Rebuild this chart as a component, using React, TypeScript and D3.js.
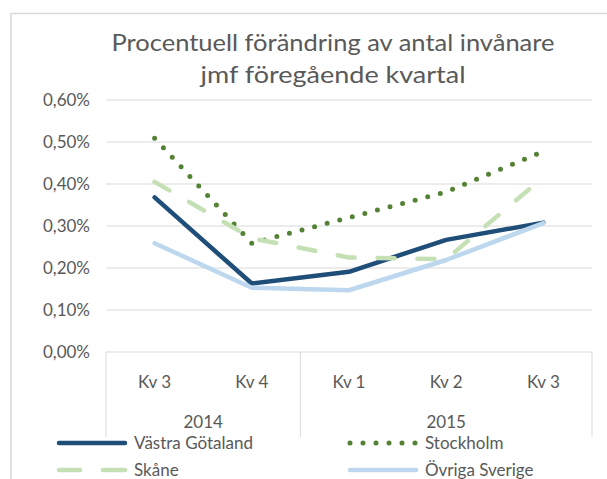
import React from 'react';
import * as d3 from 'd3';

const quarters = ['Kv 3', 'Kv 4', 'Kv 1', 'Kv 2', 'Kv 3'];
const years = ['2014', '2015'];
const yearSpans = [2, 3];

const vastraGotaland = [0.368, 0.163, 0.191, 0.267, 0.308];
const stockholm = [0.509, 0.259, 0.32, 0.381, 0.478];
const skane = [0.405, 0.271, 0.225, 0.221, 0.416];
const ovrigaSverige = [0.259, 0.153, 0.147, 0.219, 0.307];

const yTicks = [0, 0.1, 0.2, 0.3, 0.4, 0.5, 0.6];

const seriesNames = ['Västra Götaland', 'Stockholm', 'Skåne', 'Övriga Sverige'];

const FONT = 'Lato, "Open Sans", sans-serif';
const TEXT = '#595959';
const GRID = '#D9D9D9';

const styles = [
    { color: '#1F4E79', width: 4.5, dash: null, cap: 'round' },
    { color: '#548235', width: 5, dash: '0 13', cap: 'round' },
    { color: '#C5E0B4', width: 4.5, dash: '17 23', cap: 'round' },
    { color: '#BDD7EE', width: 4.5, dash: null, cap: 'round' },
];

const App = () => {
    const width = 607;
    const height = 479;
    const left = 106;
    const right = 592;
    const top = 100;
    const bottom = 352;

    const idx = quarters.map((_, i) => i);
    const x = d3.scaleBand<number>().domain(idx).range([left, right]).padding(0);
    const cx = (i: number) => (x(i) as number) + x.bandwidth() / 2;
    const y = d3.scaleLinear().domain([0, 0.6]).range([bottom, top]);

    const fmt = (v: number) => d3.format('.2f')(v).replace('.', ',') + '%';

    const line = d3.line<number>()
        .x((_, i) => cx(i))
        .y(d => y(d));

    const allSeries = [vastraGotaland, stockholm, skane, ovrigaSverige];

    // year group boundaries
    const bounds: number[] = [left];
    let acc = 0;
    yearSpans.forEach(s => {
        acc += s;
        bounds.push(acc < quarters.length ? (x(acc) as number) : right);
    });

    const legendPos = [
        { x: 57, y: 443 },
        { x: 348, y: 443 },
        { x: 57, y: 470 },
        { x: 348, y: 470 },
    ];

    return (
        <svg width={width} height={height}
            style={{ position: 'absolute', left: 0, top: 0, background: '#fff' }}
            fontFamily={FONT}>
            <rect x={0} y={0} width={width} height={height} fill="#fff" />
            <path d={`M11,${height} V13.5 H${width}`} fill="none" stroke={GRID} strokeWidth={1.5} />

            <text x={333} y={51} textAnchor="middle" fontSize={23} fill={TEXT}
                textLength={443} lengthAdjust="spacingAndGlyphs">
                Procentuell förändring av antal invånare
            </text>
            <text x={333} y={83} textAnchor="middle" fontSize={23} fill={TEXT}
                textLength={265} lengthAdjust="spacingAndGlyphs">
                jmf föregående kvartal
            </text>

            {yTicks.map(t => (
                <g key={t}>
                    <line x1={left} x2={right} y1={y(t)} y2={y(t)} stroke={GRID} strokeWidth={1} />
                    <text x={90} y={y(t) + 6} textAnchor="end" fontSize={17} fill={TEXT}>{fmt(t)}</text>
                </g>
            ))}

            {bounds.map((b, i) => (
                <line key={i} x1={b} x2={b} y1={bottom} y2={437} stroke={GRID} strokeWidth={1} />
            ))}

            {quarters.map((q, i) => (
                <text key={i} x={cx(i)} y={388} textAnchor="middle" fontSize={17} fill={TEXT}>{q}</text>
            ))}

            {years.map((yr, i) => (
                <text key={yr} x={(bounds[i] + bounds[i + 1]) / 2} y={428} textAnchor="middle"
                    fontSize={17} fill={TEXT}>{yr}</text>
            ))}

            {allSeries.map((s, i) => (
                <path key={i} d={line(s) || ''} fill="none"
                    stroke={styles[i].color} strokeWidth={styles[i].width}
                    strokeLinecap={styles[i].cap as any} strokeLinejoin="round"
                    strokeDasharray={styles[i].dash || undefined} />
            ))}

            {seriesNames.map((n, i) => {
                const p = legendPos[i];
                const dash = i === 2 ? '21 23 30' : styles[i].dash;
                return (
                    <g key={n}>
                        <line x1={p.x + 2} x2={p.x + 68} y1={p.y} y2={p.y}
                            stroke={styles[i].color} strokeWidth={styles[i].width}
                            strokeLinecap="round" strokeDasharray={dash || undefined} />
                        <text x={p.x + 77} y={p.y + 6} fontSize={17} fill={TEXT}>{n}</text>
                    </g>
                );
            })}
        </svg>
    );
};

export default App;
